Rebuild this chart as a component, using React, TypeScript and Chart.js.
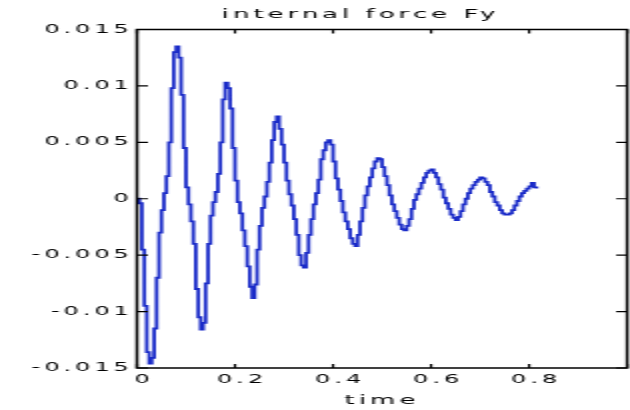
import React, { useEffect, useRef } from "react";
import { Chart, registerables } from "chart.js";

Chart.register(...registerables);

const titleText = "internal force Fy";
const xAxisTitle = "time";

const xTicks = [0, 0.2, 0.4, 0.6, 0.8, 1];
const xTickLabels = ["0", "0.2", "0.4", "0.6", "0.8", ""];
const yTicks = [-0.015, -0.01, -0.005, 0, 0.005, 0.01, 0.015];
const yTickLabels = ["-0.015", "-0.01", "-0.005", "0", "0.005", "0.01", "0.015"];

const times = [
  0.0, 0.005, 0.01, 0.015, 0.02, 0.025, 0.03, 0.035, 0.04, 0.045,
  0.05, 0.055, 0.06, 0.065, 0.07, 0.075, 0.08, 0.085, 0.09, 0.095,
  0.1, 0.105, 0.11, 0.115, 0.12, 0.125, 0.13, 0.135, 0.14, 0.145,
  0.15, 0.155, 0.16, 0.165, 0.17, 0.175, 0.18, 0.185, 0.19, 0.195,
  0.2, 0.205, 0.21, 0.215, 0.22, 0.225, 0.23, 0.235, 0.24, 0.245,
  0.25, 0.255, 0.26, 0.265, 0.27, 0.275, 0.28, 0.285, 0.29, 0.295,
  0.3, 0.305, 0.31, 0.315, 0.32, 0.325, 0.33, 0.335, 0.34, 0.345,
  0.35, 0.355, 0.36, 0.365, 0.37, 0.375, 0.38, 0.385, 0.39, 0.395,
  0.4, 0.405, 0.41, 0.415, 0.42, 0.425, 0.43, 0.435, 0.44, 0.445,
  0.45, 0.455, 0.46, 0.465, 0.47, 0.475, 0.48, 0.485, 0.49, 0.495,
  0.5, 0.505, 0.51, 0.515, 0.52, 0.525, 0.53, 0.535, 0.54, 0.545,
  0.55, 0.555, 0.56, 0.565, 0.57, 0.575, 0.58, 0.585, 0.59, 0.595,
  0.6, 0.605, 0.61, 0.615, 0.62, 0.625, 0.63, 0.635, 0.64, 0.645,
  0.65, 0.655, 0.66, 0.665, 0.67, 0.675, 0.68, 0.685, 0.69, 0.695,
  0.7, 0.705, 0.71, 0.715, 0.72, 0.725, 0.73, 0.735, 0.74, 0.745,
  0.75, 0.755, 0.76, 0.765, 0.77, 0.775, 0.78, 0.785, 0.79, 0.795,
  0.8, 0.805, 0.81, 0.815,
];

const forceFy = [
  0, -0.0004, -0.0045, -0.0095, -0.0136, -0.0146, -0.0141, -0.0115, -0.007, -0.003,
  -0.001, 0.0005, 0.002, 0.005, 0.0098, 0.013, 0.0135, 0.0125, 0.0092, 0.0045,
  0.001, -0.0005, -0.002, -0.004, -0.008, -0.0105, -0.0116, -0.011, -0.0075, -0.004,
  -0.0015, -0.0003, 0.0006, 0.0022, 0.005, 0.0088, 0.0103, 0.0098, 0.008, 0.0045,
  0.0016, -0.0003, -0.0013, -0.0028, -0.0042, -0.006, -0.0078, -0.0088, -0.0076, -0.0045,
  -0.0024, -0.0008, 0.0002, 0.0015, 0.0032, 0.0052, 0.0068, 0.0073, 0.0062, 0.0048,
  0.0032, 0.0016, 0.0004, -0.0006, -0.0018, -0.0032, -0.005, -0.0059, -0.0061, -0.0048,
  -0.0032, -0.0018, -0.0005, 0.0005, 0.0017, 0.0035, 0.0043, 0.005, 0.0052, 0.0048,
  0.0033, 0.0018, 0.0008, -0.0002, -0.0012, -0.002, -0.0027, -0.0035, -0.004, -0.0042,
  -0.0032, -0.002, -0.0008, 0.0003, 0.0011, 0.0019, 0.0027, 0.0033, 0.0036, 0.0035,
  0.0028, 0.002, 0.0012, 0.0003, -0.0005, -0.0011, -0.0017, -0.0023, -0.0027, -0.0028,
  -0.0024, -0.0018, -0.0009, -0.0001, 0.0004, 0.0009, 0.0014, 0.0019, 0.0023, 0.0025,
  0.0026, 0.0023, 0.0019, 0.0013, 0.0008, 0.0001, -0.0004, -0.0009, -0.0014, -0.0017,
  -0.0019, -0.0016, -0.0011, -0.0005, 0.0, 0.0005, 0.0009, 0.0012, 0.0015, 0.0017,
  0.0019, 0.0018, 0.0015, 0.0012, 0.0006, 0.0002, -0.0003, -0.0006, -0.001, -0.0013,
  -0.0014, -0.0014, -0.0013, -0.001, -0.0006, -0.0002, 0.0002, 0.0005, 0.0007, 0.0009,
  0.0011, 0.0014, 0.001, 0.0009,
];

const FONT = "DejaVu Sans";
const SPACING = "2px";

const spacingPlugin = {
  id: "letterSpacing",
  beforeLayout(chart: any) {
    chart.ctx.letterSpacing = SPACING;
  },
  afterLayout(chart: any) {
    // title centred as in the original figure (a little left of the axes centre)
    const tb = chart.titleBlock;
    if (tb) {
      tb.left = 42.5;
      tb.right = chart.width;
    }
  },
  beforeDraw(chart: any) {
    chart.ctx.letterSpacing = SPACING;
  },
};

const boxPlugin = {
  id: "matlabBox",
  afterDatasetsDraw(chart: any) {
    const { ctx, chartArea, scales } = chart;
    const { left, right, top, bottom } = chartArea;
    ctx.save();
    ctx.strokeStyle = "#000";
    ctx.lineWidth = 1.5;
    ctx.strokeRect(left, top, right - left, bottom - top);
    ctx.lineWidth = 1.2;
    ctx.beginPath();
    for (const t of scales.x.ticks) {
      const px = scales.x.getPixelForValue(t.value);
      ctx.moveTo(px, bottom);
      ctx.lineTo(px, bottom - 4);
      ctx.moveTo(px, top);
      ctx.lineTo(px, top + 4);
    }
    for (const t of scales.y.ticks) {
      const py = scales.y.getPixelForValue(t.value);
      ctx.moveTo(left, py);
      ctx.lineTo(left + 5.5, py);
      ctx.moveTo(right, py);
      ctx.lineTo(right - 5.5, py);
    }
    ctx.stroke();
    ctx.restore();
  },
};

export default function App() {
  const ref = useRef<HTMLCanvasElement | null>(null);

  useEffect(() => {
    if (!ref.current) return;
    const points = times.map((t, i) => ({ x: t, y: forceFy[i] }));
    const chart = new Chart(ref.current, {
      type: "line",
      data: {
        datasets: [
          {
            data: points,
            borderColor: "#1a2bc8",
            borderWidth: 1.8,
            pointRadius: 0,
            stepped: true,
            fill: false,
          },
        ],
      },
      options: {
        animation: false,
        responsive: false,
        devicePixelRatio: 1,
        events: [],
        layout: { padding: { left: 0, right: 0, top: 0, bottom: 0 } },
        plugins: {
          legend: { display: false },
          tooltip: { enabled: false },
          title: {
            display: true,
            text: titleText,
            color: "#000",
            font: { family: FONT, size: 13, weight: "normal" },
            padding: { top: 7.2, bottom: 6.7 },
          },
        },
        scales: {
          x: {
            type: "linear",
            min: 0,
            max: 1,
            afterBuildTicks: (s: any) => {
              s.ticks = xTicks.map((v) => ({ value: v }));
            },
            afterFit: (s: any) => {
              s.height = 42;
            },
            grid: { display: false, drawTicks: false },
            border: { display: false },
            ticks: {
              color: "#000",
              font: { family: FONT, size: 12 },
              padding: 4.4,
              labelOffset: 3.5,
              maxRotation: 0,
              autoSkip: false,
              callback: (_v: any, i: number) => xTickLabels[i],
            },
            title: {
              display: true,
              text: xAxisTitle,
              color: "#000",
              font: { family: FONT, size: 13 },
              padding: { top: 0, bottom: 1.7 },
            },
          },
          y: {
            type: "linear",
            min: -0.015,
            max: 0.015,
            afterBuildTicks: (s: any) => {
              s.ticks = yTicks.map((v) => ({ value: v }));
            },
            afterFit: (s: any) => {
              s.width = 68.5;
            },
            grid: { display: false, drawTicks: false },
            border: { display: false },
            ticks: {
              color: "#000",
              font: { family: FONT, size: 12 },
              padding: 2,
              autoSkip: false,
              callback: (_v: any, i: number) => yTickLabels[i],
            },
          },
        },
      },
      plugins: [spacingPlugin, boxPlugin],
    });
    return () => chart.destroy();
  }, []);

  return (
    <div
      style={{
        position: "fixed",
        left: 0,
        top: 0,
        width: "630px",
        height: "410px",
        overflow: "hidden",
        background: "#fff",
      }}
    >
      <canvas
        ref={ref}
        width={318}
        height={410}
        style={{ width: "636px", height: "410px", display: "block" }}
      />
    </div>
  );
}
